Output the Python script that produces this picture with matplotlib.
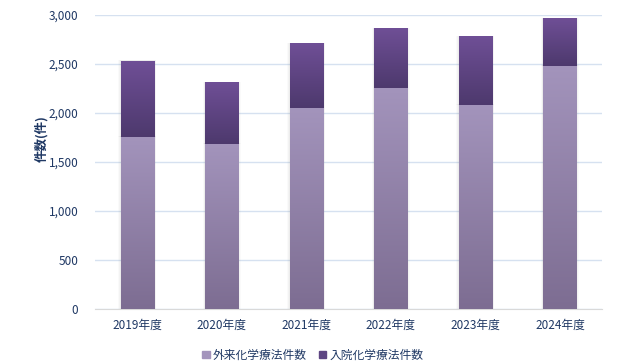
import numpy as np
import matplotlib
matplotlib.use('Agg')
import matplotlib.pyplot as plt
from matplotlib.colors import LinearSegmentedColormap

plt.rcParams['font.family'] = ['Noto Sans CJK JP', 'DejaVu Sans']

years = ['2019年度', '2020年度', '2021年度', '2022年度', '2023年度', '2024年度']
outpatient = [1758, 1684, 2051, 2255, 2082, 2480]   # 外来化学療法件数
inpatient = [773, 632, 663, 612, 694, 489]           # 入院化学療法件数
labels = ['外来化学療法件数', '入院化学療法件数']

text_col = '#1F3864'
# gradients: (bottom colour, top colour)
grad_out = ('#7D6D92', '#A394BC')
grad_in = ('#4D396D', '#6F4F96')

fig = plt.figure(figsize=(6.26, 3.63), dpi=100)
ax = fig.add_axes([0.152, 0.149, 0.81, 0.81])

x = np.arange(len(years))
b1 = ax.bar(x, outpatient, width=0.4, color=grad_out[1], label=labels[0], zorder=2)
b2 = ax.bar(x, inpatient, width=0.4, bottom=outpatient, color=grad_in[1], label=labels[1], zorder=2)

# gradient fill over each bar, plus a soft shadow
grad = np.linspace(0, 1, 256).reshape(-1, 1)
for bars, (c0, c1) in [(b1, grad_out), (b2, grad_in)]:
    cmap = LinearSegmentedColormap.from_list('g', [c0, c1])
    for r in bars:
        x0, y0, w, h = r.get_x(), r.get_y(), r.get_width(), r.get_height()
        for k, a in [(0.05, 0.04), (0.03, 0.05), (0.015, 0.06)]:
            ax.add_patch(plt.Rectangle((x0 - k / 2, y0), w + k, h + 4, color='#808080',
                                       alpha=a, lw=0, zorder=1))
        ax.imshow(grad, cmap=cmap, extent=[x0, x0 + w, y0, y0 + h], origin='lower',
                  aspect='auto', zorder=3)

ax.set_xlim(-0.5, len(years) - 0.5)
ax.set_ylim(0, 3000)

ax.set_yticks(range(0, 3001, 500))
ax.set_yticklabels([f'{v:,}' for v in range(0, 3001, 500)])
ax.set_xticks(x)
ax.set_xticklabels(years)
ax.tick_params(axis='both', length=0, colors=text_col, labelsize=8.5)
ax.tick_params(axis='y', pad=12)
ax.tick_params(axis='x', pad=7)

ax.grid(axis='y', color='#D6E1F0', lw=1, zorder=0)
ax.set_axisbelow(True)
for s in ['top', 'right', 'left']:
    ax.spines[s].set_visible(False)
ax.spines['bottom'].set_color('#D9D9D9')

ax.set_ylabel('件数(件)', color=text_col, fontsize=9, fontweight='bold')
ax.yaxis.set_label_coords(-0.093, 0.58)

leg = fig.legend(handles=[b1, b2], labels=labels, loc='lower center',
                 bbox_to_anchor=(0.5, -0.025), ncol=2, frameon=False,
                 fontsize=8.5, handlelength=0.6, handleheight=0.6, handletextpad=0.3,
                 columnspacing=1.0, labelcolor=text_col)
leg.legend_handles[0].set_color('#A394BC')
leg.legend_handles[1].set_color('#5E4683')

fig.savefig('out.png', dpi=100)
